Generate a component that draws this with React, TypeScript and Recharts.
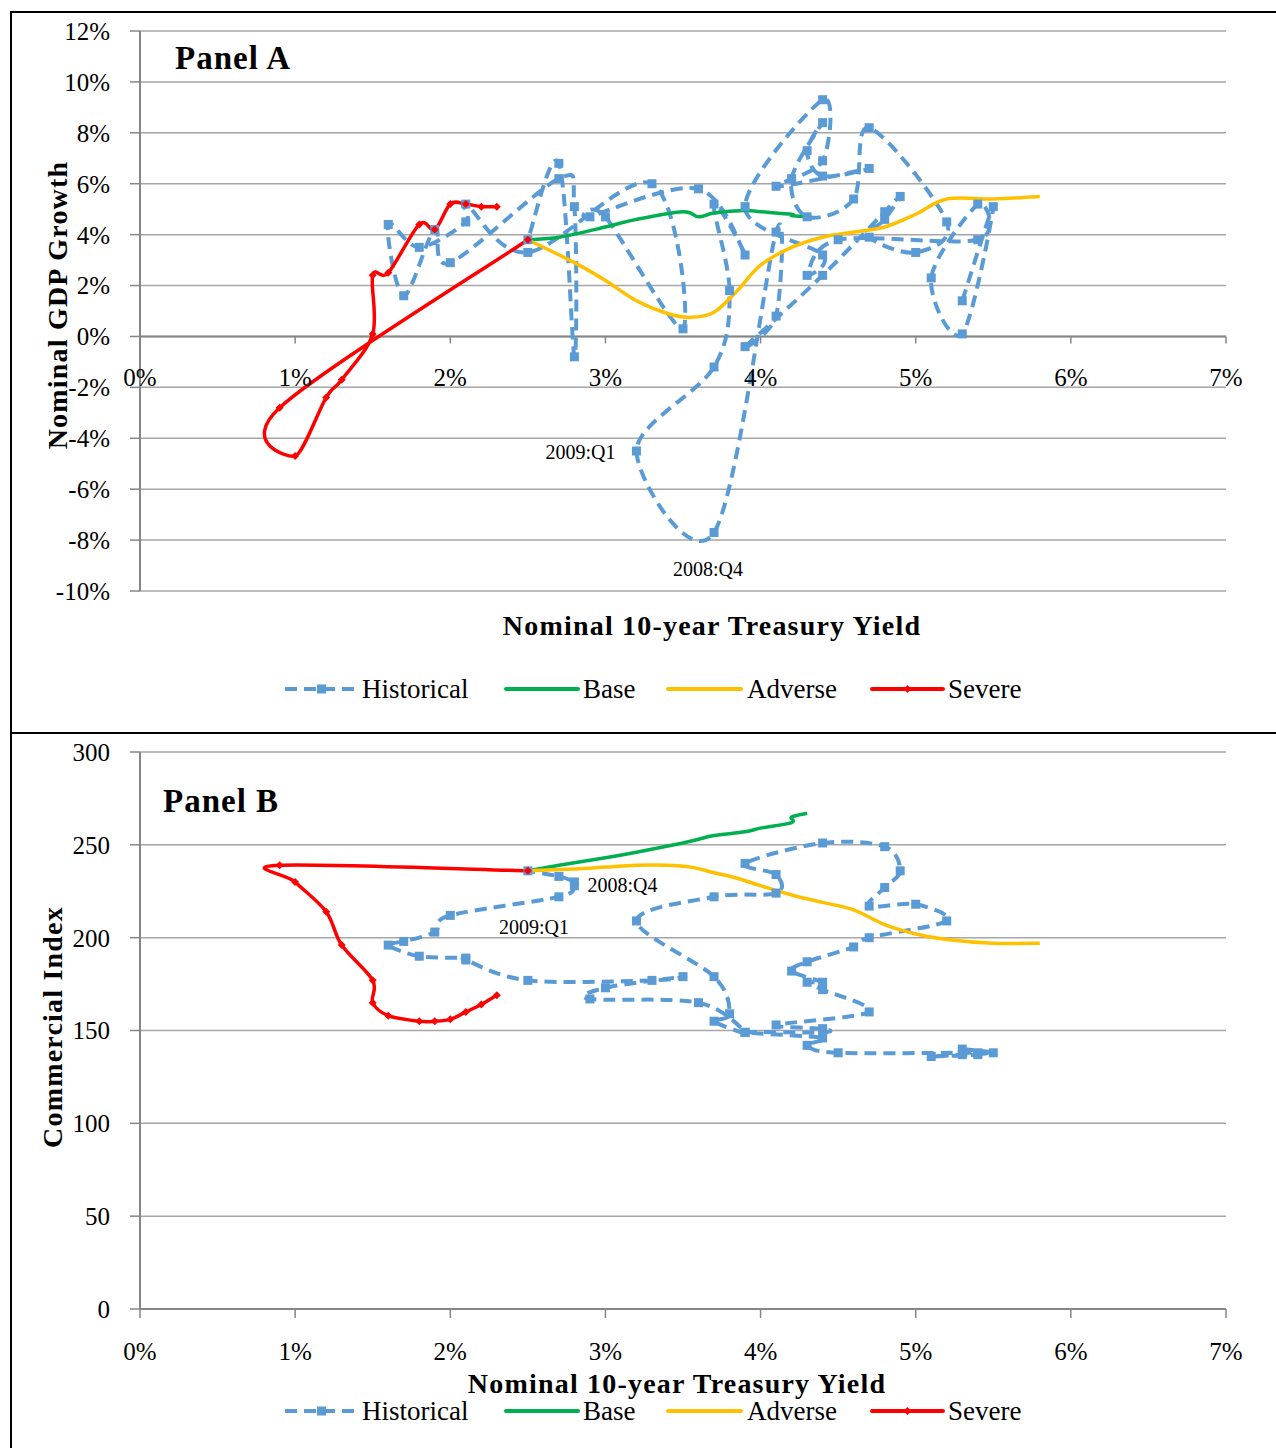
import { LineChart, Line, XAxis, YAxis, CartesianGrid, ReferenceLine, ReferenceDot } from 'recharts'

const SERIF = "'Liberation Serif', 'DejaVu Serif', serif"
const BLUE = '#5B9BD5'
const GREEN = '#00B050'
const YELLOW = '#FFC000'
const RED = '#FF0000'
const GRID = '#a6a6a6'
const AXIS = '#868686'

// Quarterly history, 2001:Q1 - 2014:Q3
const histYield = [
  5.3, 5.5, 5.3, 5.1, 5.4, 5.4, 4.5, 4.3, 4.4, 3.9, 4.4, 4.4, 4.1, 4.7, 4.4, 4.3,
  4.4, 4.2, 4.3, 4.6, 4.7, 5.2, 5.0, 4.7, 4.8, 4.9, 4.8, 4.4, 3.9, 4.1, 4.1, 3.7,
  3.2, 3.7, 3.8, 3.7, 3.9, 3.6, 2.9, 3.0, 3.5, 3.3, 2.5, 2.1, 2.1, 1.8, 1.6, 1.7,
  1.9, 2.0, 2.7, 2.8, 2.8, 2.7, 2.5,
]
const histGdp = [
  1.4, 5.1, 0.1, 2.3, 5.2, 3.8, 3.8, 2.4, 3.2, 5.1, 9.3, 6.9, 5.9, 6.6, 6.3, 7.3,
  8.4, 6.2, 4.7, 5.4, 8.2, 4.5, 3.3, 3.9, 4.6, 5.5, 4.9, 2.4, -0.4, 0.8, 4.1, -7.7,
  -4.5, -1.2, 1.8, 5.2, 3.2, 5.8, 4.7, 4.7, 0.3, 6.0, 3.3, 5.2, 4.5, 3.5, 4.4, 1.6,
  4.2, 2.9, 6.2, 5.1, -0.8, 6.8, 3.8,
]
const histCre = [
  140, 138, 137, 136, 137, 138, 138, 142, 146, 149, 149, 151, 153, 160, 172, 176,
  176, 182, 187, 195, 200, 209, 218, 217, 227, 236, 249, 251, 240, 234, 224, 222,
  209, 179, 159, 155, 149, 165, 167, 173, 179, 177, 177, 188, 189, 190, 196, 198,
  203, 212, 222, 228, 230, 233, 236,
]

const baseYield = [2.5, 2.7, 3.0, 3.2, 3.5, 3.6, 3.7, 3.9, 4.0, 4.2, 4.2, 4.3]
const baseGdp = [3.8, 3.9, 4.3, 4.6, 4.9, 4.7, 4.85, 4.95, 4.9, 4.8, 4.75, 4.7]
const baseCre = [236, 239, 243, 246, 251, 253, 255, 257, 259, 262, 265, 267]

const adverseYield = [2.5, 2.8, 3.0, 3.2, 3.4, 3.55, 3.7, 3.85, 4.0, 4.2, 4.4, 4.6, 4.8, 5.0, 5.2, 5.5, 5.8]
const adverseGdp = [3.8, 2.9, 2.2, 1.4, 0.9, 0.75, 0.95, 1.8, 2.8, 3.5, 3.9, 4.1, 4.3, 4.8, 5.4, 5.4, 5.5]
const adverseCre = [236, 237, 238, 239, 239, 238, 235, 232, 228, 223, 219, 215, 207, 202, 199, 197, 197]

const severeYield = [2.5, 0.9, 1.0, 1.2, 1.3, 1.5, 1.5, 1.6, 1.8, 1.9, 2.0, 2.1, 2.2, 2.3]
const severeGdp = [3.8, -2.8, -4.7, -2.4, -1.7, 0.1, 2.4, 2.5, 4.4, 4.2, 5.2, 5.2, 5.1, 5.1]
const severeCre = [236, 239, 230, 214, 196, 177, 165, 158, 155, 155, 156, 160, 164, 169]

const yieldTicks = [0, 1, 2, 3, 4, 5, 6, 7]
const gdpTicks = [-10, -8, -6, -4, -2, 0, 2, 4, 6, 8, 10, 12]
const creTicks = [0, 50, 100, 150, 200, 250, 300]

const legendItems = ['Historical', 'Base', 'Adverse', 'Severe']

const zip = (xs: number[], ys: number[]) => xs.map((x, i) => ({ x, y: ys[i] }))

// Smoothed line through the points in data order (works for loops in x)
const smooth = (context: any) => {
  let pts: number[][] = []
  return {
    areaStart() {},
    areaEnd() {},
    lineStart() { pts = [] },
    lineEnd() {
      const n = pts.length
      if (!n) return
      context.moveTo(pts[0][0], pts[0][1])
      for (let i = 0; i < n - 1; i++) {
        const p0 = pts[Math.max(i - 1, 0)]
        const p1 = pts[i]
        const p2 = pts[i + 1]
        const p3 = pts[Math.min(i + 2, n - 1)]
        context.bezierCurveTo(
          p1[0] + (p2[0] - p0[0]) / 6, p1[1] + (p2[1] - p0[1]) / 6,
          p2[0] - (p3[0] - p1[0]) / 6, p2[1] - (p3[1] - p1[1]) / 6,
          p2[0], p2[1],
        )
      }
    },
    point(x: number, y: number) { pts.push([+x, +y]) },
  }
}

const squareDot = (p: any) => (
  <rect key={p.key} x={p.cx - 4.5} y={p.cy - 4.5} width={9} height={9} fill={BLUE} />
)
const diamondDot = (p: any) => (
  <polygon key={p.key} points={`${p.cx},${p.cy - 4} ${p.cx + 4},${p.cy} ${p.cx},${p.cy + 4} ${p.cx - 4},${p.cy}`} fill={RED} />
)

// plot geometry for panel A (x axis labels hang off the 0% line)
const A_TOP = 31
const A_H = 560
const A_ZERO = A_TOP + (A_H * 12) / 22

const PanelATick = (p: any) => (
  <g>
    <line x1={p.x} x2={p.x} y1={A_ZERO} y2={A_ZERO + 7} stroke={AXIS} strokeWidth={1.5} />
    <text x={p.x} y={A_ZERO + 41} textAnchor="middle" dominantBaseline="central" fontSize={25}
      style={{ fontFamily: SERIF }} fill="#000">
      {p.payload.value}%
    </text>
  </g>
)

const Note = (p: any) => {
  const vb = p.viewBox || {}
  const cx = vb.x + (vb.width || 0) / 2
  const cy = vb.y + (vb.height || 0) / 2
  return (
    <text x={cx + p.dx} y={cy + p.dy} textAnchor={p.anchor} dominantBaseline="central" fontSize={20}
      style={{ fontFamily: SERIF }} fill="#000">
      {p.text}
    </text>
  )
}

const tickStyle = { fill: '#000', fontSize: 25, fontFamily: SERIF, style: { fontFamily: SERIF } }

function LegendRow({ y }: { y: number }) {
  const samples = [
    { x1: 285, x2: 358, tx: 362, color: BLUE },
    { x1: 506, x2: 578, tx: 583, color: GREEN },
    { x1: 668, x2: 741, tx: 747, color: YELLOW },
    { x1: 872, x2: 943, tx: 948, color: RED },
  ]
  return (
    <g>
      {samples.map((s, i) => {
        const mid = (s.x1 + s.x2) / 2
        return (
          <g key={legendItems[i]}>
            <line x1={s.x1} x2={s.x2} y1={y} y2={y} stroke={s.color} strokeWidth={4}
              strokeDasharray={i === 0 ? '12 7' : undefined} strokeLinecap={i === 0 ? 'butt' : 'round'} />
            {i === 0 && <rect x={mid - 4.5} y={y - 4.5} width={9} height={9} fill={BLUE} />}
            {i === 3 && <polygon points={`${mid},${y - 4} ${mid + 4},${y} ${mid},${y + 4} ${mid - 4},${y}`} fill={RED} />}
            <text x={s.tx} y={y} dominantBaseline="central" fontSize={27} style={{ fontFamily: SERIF }} fill="#000">
              {legendItems[i]}
            </text>
          </g>
        )
      })}
    </g>
  )
}

const boldTitle = { fontSize: 28, fontWeight: 700, style: { fontFamily: SERIF }, letterSpacing: 1.2 }

export default function App() {
  const histA = zip(histYield, histGdp)
  const baseA = zip(baseYield, baseGdp)
  const advA = zip(adverseYield, adverseGdp)
  const sevA = zip(severeYield, severeGdp)
  const histB = zip(histYield, histCre)
  const baseB = zip(baseYield, baseCre)
  const advB = zip(adverseYield, adverseCre)
  const sevB = zip(severeYield, severeCre)

  const lines = (h: any[], b: any[], a: any[], s: any[]) => [
    <Line key="h" data={h} dataKey="y" type={smooth as any} stroke={BLUE} strokeWidth={4} strokeDasharray="12 7" dot={squareDot} activeDot={false} isAnimationActive={false} />,
    <Line key="b" data={b} dataKey="y" type={smooth as any} stroke={GREEN} strokeWidth={3.5} dot={false} activeDot={false} isAnimationActive={false} />,
    <Line key="a" data={a} dataKey="y" type={smooth as any} stroke={YELLOW} strokeWidth={3.5} dot={false} activeDot={false} isAnimationActive={false} />,
    <Line key="s" data={s} dataKey="y" type={smooth as any} stroke={RED} strokeWidth={3.5} dot={diamondDot} activeDot={false} isAnimationActive={false} />,
  ]

  return (
    <div style={{ position: 'absolute', left: 0, top: 0, width: 1276, height: 1448, background: '#fff', fontFamily: SERIF }}>
      {/* frame */}
      <div style={{ position: 'absolute', left: 10, top: 11, width: 2, height: 1437, background: '#000' }} />
      <div style={{ position: 'absolute', left: 10, top: 11, width: 1266, height: 2, background: '#000' }} />
      <div style={{ position: 'absolute', left: 10, top: 732, width: 1266, height: 2, background: '#000' }} />

      <div style={{ position: 'absolute', left: 0, top: 0 }}>
        <LineChart width={1276} height={733} margin={{ top: 31, right: 50, bottom: 112, left: 30 }}>
          <CartesianGrid vertical={false} stroke={GRID} strokeWidth={1.5} />
          <XAxis type="number" dataKey="x" domain={[0, 7]} ticks={yieldTicks} interval={0}
            axisLine={false} tickLine={false} height={30} tick={<PanelATick />} />
          <YAxis type="number" domain={[-10, 12]} ticks={gdpTicks} interval={0} width={110}
            axisLine={{ stroke: AXIS, strokeWidth: 2 }} tickLine={{ stroke: AXIS, strokeWidth: 1.5 }}
            tickSize={10} tickMargin={20} tick={tickStyle} tickFormatter={(v: number) => `${v}%`} />
          <ReferenceLine y={0} stroke={AXIS} strokeWidth={2} />
          {lines(histA, baseA, advA, sevA)}
          <ReferenceDot x={3.2} y={-4.5} r={1} fill="none" stroke="none"
            label={<Note text="2009:Q1" dx={-21} dy={1} anchor="end" />} />
          <ReferenceDot x={3.7} y={-7.7} r={1} fill="none" stroke="none"
            label={<Note text="2008:Q4" dx={-6} dy={37} anchor="middle" />} />
        </LineChart>
      </div>

      <div style={{ position: 'absolute', left: 0, top: 733 }}>
        <LineChart width={1276} height={715} margin={{ top: 19, right: 50, bottom: 79, left: 30 }}>
          <CartesianGrid vertical={false} stroke={GRID} strokeWidth={1.5} />
          <XAxis type="number" dataKey="x" domain={[0, 7]} ticks={yieldTicks} interval={0} height={60}
            axisLine={{ stroke: AXIS, strokeWidth: 2 }} tickLine={{ stroke: AXIS, strokeWidth: 1.5 }}
            tickSize={9} tickMargin={24} tick={tickStyle} tickFormatter={(v: number) => `${v}%`} />
          <YAxis type="number" domain={[0, 300]} ticks={creTicks} interval={0} width={110}
            axisLine={{ stroke: AXIS, strokeWidth: 2 }} tickLine={{ stroke: AXIS, strokeWidth: 1.5 }}
            tickSize={10} tickMargin={20} tick={tickStyle} />
          {lines(histB, baseB, advB, sevB)}
          <ReferenceDot x={2.8} y={228} r={1} fill="none" stroke="none"
            label={<Note text="2008:Q4" dx={13} dy={-1} anchor="start" />} />
          <ReferenceDot x={2.7} y={222} r={1} fill="none" stroke="none"
            label={<Note text="2009:Q1" dx={-25} dy={30} anchor="middle" />} />
        </LineChart>
      </div>

      <svg width={1276} height={1448} style={{ position: 'absolute', left: 0, top: 0, pointerEvents: 'none' }}>
        <text x={175} y={69} fontSize={33} fontWeight={700} style={{ fontFamily: SERIF }} letterSpacing={1}>Panel A</text>
        <text x={163} y={812} fontSize={33} fontWeight={700} style={{ fontFamily: SERIF }} letterSpacing={1}>Panel B</text>
        <text x={712} y={625} textAnchor="middle" dominantBaseline="central" {...boldTitle}>Nominal 10-year Treasury Yield</text>
        <text x={677} y={1383} textAnchor="middle" dominantBaseline="central" {...boldTitle}>Nominal 10-year Treasury Yield</text>
        <text transform="translate(57,305) rotate(-90)" textAnchor="middle" dominantBaseline="central" {...boldTitle}>Nominal GDP Growth</text>
        <text transform="translate(52,1027) rotate(-90)" textAnchor="middle" dominantBaseline="central" {...boldTitle}>Commercial Index</text>
        <LegendRow y={689} />
        <LegendRow y={1411} />
      </svg>
    </div>
  )
}
